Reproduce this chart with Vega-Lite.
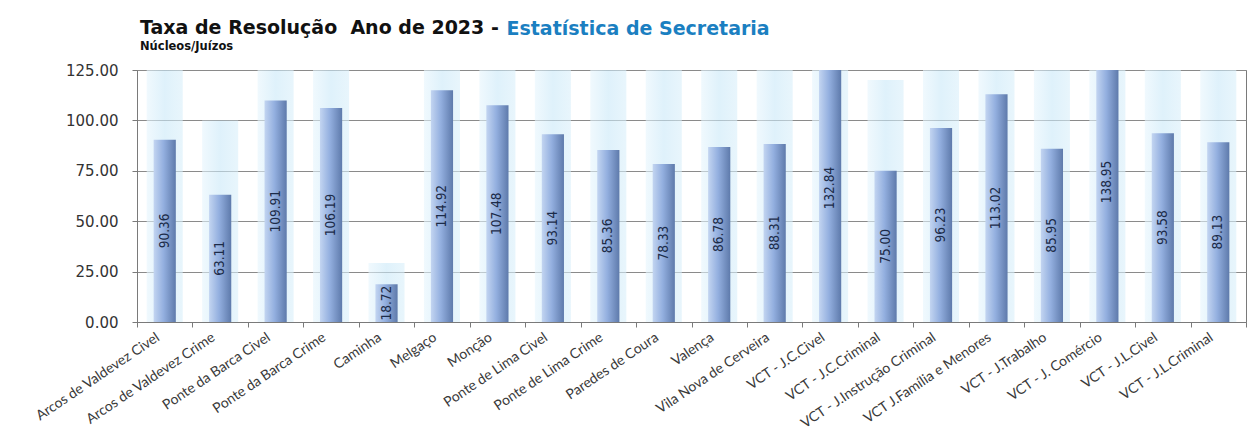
{
  "$schema": "https://vega.github.io/schema/vega-lite/v6.json",
  "width": 1109,
  "height": 252,
  "autosize": {"type": "none"},
  "padding": {"left": 137, "top": 70, "right": 13, "bottom": 108},
  "background": "white",
  "title": {
    "text": "Taxa de Resolução\u00a0 Ano de 2023 -",
    "subtitle": "Núcleos/Juízos",
    "anchor": "start",
    "frame": "group",
    "dx": 3,
    "offset": -33,
    "font": "DejaVu Sans",
    "fontSize": 19,
    "fontWeight": "bold",
    "color": "#111111",
    "subtitleFont": "DejaVu Sans",
    "subtitleFontSize": 11.5,
    "subtitleFontWeight": "bold",
    "subtitleColor": "#111111",
    "subtitlePadding": 3
  },
  "config": {
    "view": {"stroke": "#7a7a7a", "strokeWidth": 1}
  },
  "data": {
    "values": [
      {"nucleo": "Arcos de Valdevez Civel", "taxa": 90.36, "referencia": 125},
      {"nucleo": "Arcos de Valdevez Crime", "taxa": 63.11, "referencia": 100},
      {"nucleo": "Ponte da Barca Civel", "taxa": 109.91, "referencia": 125},
      {"nucleo": "Ponte da Barca Crime", "taxa": 106.19, "referencia": 125},
      {"nucleo": "Caminha", "taxa": 18.72, "referencia": 29.3},
      {"nucleo": "Melgaço", "taxa": 114.92, "referencia": 125},
      {"nucleo": "Monção", "taxa": 107.48, "referencia": 125},
      {"nucleo": "Ponte de Lima Civel", "taxa": 93.14, "referencia": 125},
      {"nucleo": "Ponte de Lima Crime", "taxa": 85.36, "referencia": 125},
      {"nucleo": "Paredes de Coura", "taxa": 78.33, "referencia": 125},
      {"nucleo": "Valença", "taxa": 86.78, "referencia": 125},
      {"nucleo": "Vila Nova de Cerveira", "taxa": 88.31, "referencia": 125},
      {"nucleo": "VCT - J.C.Civel", "taxa": 132.84, "referencia": 125},
      {"nucleo": "VCT - J.C.Criminal", "taxa": 75.00, "referencia": 120},
      {"nucleo": "VCT - J.Instrução Criminal", "taxa": 96.23, "referencia": 125},
      {"nucleo": "VCT J.Família e Menores", "taxa": 113.02, "referencia": 125},
      {"nucleo": "VCT - J.Trabalho", "taxa": 85.95, "referencia": 125},
      {"nucleo": "VCT - J. Comércio", "taxa": 138.95, "referencia": 125},
      {"nucleo": "VCT - J.L.Civel", "taxa": 93.58, "referencia": 125},
      {"nucleo": "VCT - J.L.Criminal", "taxa": 89.13, "referencia": 125}
    ]
  },
  "encoding": {
    "x": {
      "field": "nucleo",
      "type": "nominal",
      "sort": null,
      "scale": {"paddingInner": 0, "paddingOuter": 0},
      "axis": {
        "title": null,
        "labelAngle": -34,
        "labelAlign": "right",
        "labelBaseline": "top",
        "labelFont": "Lato",
        "labelFontSize": 14,
        "labelColor": "#3a3a3a",
        "labelPadding": 3,
        "labelOffset": -11,
        "tickBand": "extent",
        "tickSize": 5,
        "tickColor": "#7a7a7a",
        "domainColor": "#7a7a7a",
        "labelOverlap": false
      }
    }
  },
  "layer": [
    {
      "encoding": {
        "y": {
          "type": "quantitative",
          "scale": {"domain": [0, 125], "nice": false},
          "axis": {
            "values": [0, 25, 50, 75, 100, 125],
            "format": ".2f",
            "grid": true,
            "gridColor": "#8a8a8a",
            "gridWidth": 1,
            "tickSize": 5,
            "tickColor": "#7a7a7a",
            "domainColor": "#7a7a7a",
            "labelFont": "DejaVu Sans",
            "labelFontSize": 15,
            "labelColor": "#333333",
            "labelPadding": 14,
            "title": "Estatística de Secretaria",
            "titleAngle": 0,
            "titleAlign": "left",
            "titleBaseline": "alphabetic",
            "titleX": 369,
            "titleY": -36,
            "titleFont": "DejaVu Sans",
            "titleFontSize": 19,
            "titleFontWeight": "bold",
            "titleColor": "#1b7fc1"
          }
        }
      },
      "layer": [
        {
          "mark": {
            "type": "bar",
            "clip": true,
            "width": {"band": 0.65},
            "opacity": 0.6,
            "color": {
              "gradient": "linear",
              "x1": 0, "y1": 0, "x2": 1, "y2": 0,
              "stops": [
                {"offset": 0, "color": "#e6f5fd"},
                {"offset": 0.5, "color": "#c9e8f8"},
                {"offset": 1, "color": "#d9effa"}
              ]
            }
          },
          "encoding": {"y": {"field": "referencia", "type": "quantitative"}}
        },
        {
          "mark": {
            "type": "bar",
            "clip": true,
            "width": {"band": 0.4},
            "color": {
              "gradient": "linear",
              "x1": 0, "y1": 0, "x2": 1, "y2": 0,
              "stops": [
                {"offset": 0, "color": "#c3d5f1"},
                {"offset": 0.45, "color": "#93afdf"},
                {"offset": 1, "color": "#5e7aab"}
              ]
            }
          },
          "encoding": {"y": {"field": "taxa", "type": "quantitative"}}
        }
      ]
    },
    {
      "mark": {
        "type": "text",
        "angle": 270,
        "align": "center",
        "baseline": "middle",
        "font": "Liberation Sans Narrow, DejaVu Sans Condensed, sans-serif",
        "fontSize": 13.5,
        "color": "#1c2b48"
      },
      "encoding": {
        "y": {
          "field": "taxa",
          "type": "quantitative",
          "scale": {"domain": [0, 250], "nice": false},
          "axis": null
        },
        "text": {"field": "taxa", "type": "quantitative", "format": ".2f"}
      }
    }
  ],
  "resolve": {"scale": {"y": "independent"}}
}
